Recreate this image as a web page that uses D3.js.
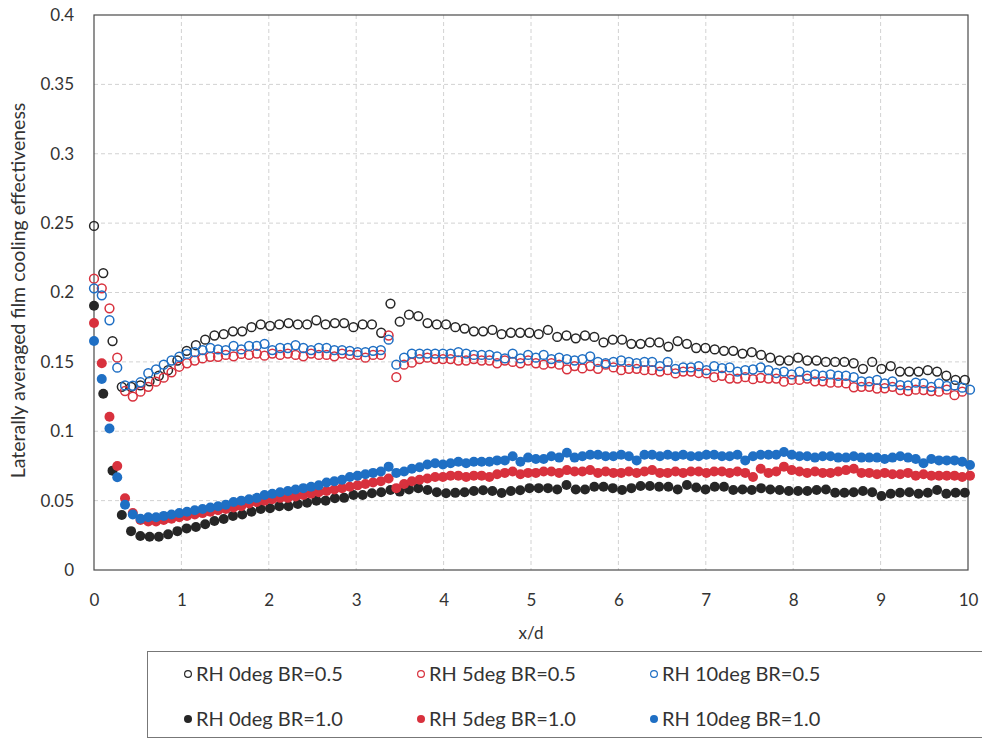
<!DOCTYPE html>
<html>
<head>
<meta charset="utf-8">
<title>Laterally averaged film cooling effectiveness</title>
<script src="https://cdn.jsdelivr.net/npm/d3@7"></script>
<style>
  body { margin: 0; background: #fff; }
  .tick text { font-family: 'Lato', 'Liberation Sans', sans-serif; font-size: 17px; fill: #333; }
  .grid line { stroke: #d2d2d2; stroke-dasharray: 4,3; }
  .legendText { font-family: 'Lato', 'Liberation Sans', sans-serif; font-size: 20px; fill: #333; }
</style>
</head>
<body>
<div id="chart"></div>
<script>
// x/d stations, 0deg cases
const xd0 = [0,0.106,0.212,0.318,0.424,0.53,0.636,0.742,0.848,0.954,
  1.06,1.166,1.272,1.378,1.484,1.59,1.696,1.802,1.908,2.014,
  2.12,2.226,2.332,2.438,2.544,2.65,2.756,2.862,2.968,3.074,
  3.18,3.286,3.392,3.498,3.604,3.71,3.816,3.922,4.028,4.134,
  4.24,4.346,4.452,4.558,4.664,4.77,4.876,4.982,5.088,5.194,
  5.3,5.406,5.512,5.618,5.724,5.83,5.936,6.042,6.148,6.254,
  6.36,6.466,6.572,6.678,6.784,6.89,6.996,7.102,7.208,7.314,
  7.42,7.526,7.632,7.738,7.844,7.95,8.056,8.162,8.268,8.374,
  8.48,8.586,8.692,8.798,8.904,9.01,9.116,9.222,9.328,9.434,
  9.54,9.646,9.752,9.858,9.964];

// x/d stations, 5deg and 10deg cases
const xd5 = [0,0.089,0.177,0.266,0.355,0.444,0.532,0.621,0.71,0.798,
  0.887,0.976,1.064,1.153,1.242,1.331,1.419,1.508,1.597,1.685,
  1.774,1.863,1.951,2.04,2.129,2.218,2.306,2.395,2.484,2.572,
  2.661,2.75,2.838,2.927,3.016,3.105,3.193,3.282,3.371,3.459,
  3.548,3.637,3.725,3.814,3.903,3.992,4.08,4.169,4.258,4.346,
  4.435,4.524,4.612,4.701,4.79,4.879,4.967,5.056,5.145,5.233,
  5.322,5.411,5.499,5.588,5.677,5.766,5.854,5.943,6.032,6.12,
  6.209,6.298,6.386,6.475,6.564,6.653,6.741,6.83,6.919,7.007,
  7.096,7.185,7.273,7.362,7.451,7.54,7.628,7.717,7.806,7.894,
  7.983,8.072,8.16,8.249,8.338,8.427,8.515,8.604,8.693,8.781,
  8.87,8.959,9.047,9.136,9.225,9.314,9.402,9.491,9.58,9.668,
  9.757,9.846,9.934,10.023];

const rh0_br05 = [0.248,0.214,0.165,0.132,0.132,0.133,0.136,0.140,0.144,0.151,
  0.158,0.162,0.166,0.169,0.170,0.172,0.172,0.175,0.177,0.176,
  0.177,0.178,0.177,0.177,0.180,0.177,0.178,0.178,0.175,0.177,
  0.177,0.171,0.192,0.179,0.184,0.183,0.178,0.177,0.177,0.175,
  0.174,0.172,0.172,0.173,0.170,0.171,0.171,0.171,0.170,0.173,
  0.168,0.169,0.167,0.169,0.168,0.164,0.166,0.166,0.163,0.163,
  0.164,0.164,0.161,0.165,0.163,0.160,0.160,0.159,0.158,0.158,
  0.156,0.157,0.155,0.153,0.151,0.151,0.153,0.151,0.151,0.150,
  0.150,0.150,0.149,0.145,0.150,0.145,0.147,0.143,0.143,0.143,
  0.144,0.143,0.140,0.137,0.137];

const rh5_br05 = [0.210,0.203,0.1886,0.153,0.129,0.125,0.1285,0.132,0.1357,0.1386,
  0.1425,0.1465,0.149,0.151,0.1525,0.1537,0.1537,0.155,0.154,0.1557,
  0.155,0.156,0.1545,0.156,0.155,0.156,0.155,0.154,0.156,0.155,
  0.155,0.154,0.156,0.155,0.155,0.153,0.155,0.155,0.169,0.139,
  0.148,0.1494,0.152,0.153,0.152,0.152,0.152,0.151,0.151,0.152,
  0.151,0.151,0.149,0.151,0.150,0.149,0.151,0.149,0.148,0.149,
  0.148,0.1446,0.147,0.1453,0.147,0.145,0.148,0.146,0.144,0.145,
  0.145,0.144,0.144,0.143,0.144,0.1417,0.143,0.143,0.142,0.1417,
  0.139,0.140,0.138,0.138,0.139,0.1375,0.1385,0.138,0.138,0.1357,
  0.137,0.137,0.138,0.136,0.136,0.135,0.135,0.1345,0.1317,0.132,
  0.132,0.1308,0.131,0.132,0.1297,0.129,0.130,0.1297,0.129,0.1285,
  0.130,0.126,0.1285];

const rh10_br05 = [0.203,0.198,0.180,0.1458,0.133,0.1328,0.1353,0.1418,0.1446,0.148,
  0.151,0.1537,0.1557,0.157,0.1585,0.160,0.159,0.1585,0.1615,0.159,
  0.1615,0.1615,0.163,0.1585,0.160,0.160,0.162,0.160,0.1585,0.160,
  0.160,0.1585,0.1585,0.158,0.157,0.157,0.158,0.1585,0.166,0.148,
  0.153,0.156,0.156,0.156,0.156,0.156,0.156,0.157,0.156,0.155,
  0.155,0.155,0.154,0.1525,0.156,0.1525,0.155,0.153,0.155,0.152,
  0.153,0.152,0.151,0.152,0.154,0.150,0.149,0.150,0.151,0.150,
  0.149,0.150,0.150,0.147,0.150,0.145,0.146,0.146,0.147,0.144,
  0.147,0.1455,0.146,0.143,0.144,0.1445,0.146,0.144,0.142,0.143,
  0.141,0.143,0.140,0.141,0.140,0.141,0.140,0.140,0.139,0.136,
  0.136,0.137,0.1345,0.136,0.1333,0.133,0.135,0.1345,0.132,0.1345,
  0.1326,0.133,0.1314,0.130];

const rh0_br10 = [0.1905,0.127,0.0716,0.0396,0.028,0.0245,0.024,0.024,0.0257,0.028,
  0.030,0.031,0.033,0.0353,0.0367,0.039,0.040,0.042,0.044,0.0445,
  0.046,0.046,0.0476,0.0485,0.050,0.050,0.0517,0.052,0.054,0.054,
  0.0553,0.056,0.0577,0.0565,0.058,0.059,0.0577,0.056,0.0553,0.0556,
  0.056,0.057,0.0575,0.057,0.0555,0.057,0.0575,0.059,0.059,0.059,
  0.058,0.0613,0.058,0.058,0.060,0.060,0.059,0.0577,0.059,0.0605,
  0.0605,0.060,0.060,0.058,0.0613,0.0595,0.058,0.060,0.060,0.0577,
  0.058,0.0577,0.059,0.058,0.0577,0.057,0.057,0.057,0.0577,0.058,
  0.0557,0.0557,0.056,0.057,0.056,0.0533,0.055,0.0557,0.056,0.055,
  0.0557,0.0577,0.055,0.0557,0.0557];

const rh5_br10 = [0.178,0.149,0.1105,0.075,0.0517,0.041,0.036,0.035,0.035,0.036,
  0.037,0.038,0.039,0.040,0.041,0.042,0.043,0.044,0.045,0.046,
  0.048,0.049,0.050,0.051,0.052,0.052,0.053,0.054,0.055,0.056,
  0.057,0.058,0.059,0.060,0.061,0.062,0.063,0.064,0.066,0.059,
  0.062,0.064,0.065,0.066,0.067,0.067,0.068,0.068,0.067,0.068,
  0.068,0.067,0.069,0.070,0.071,0.069,0.070,0.070,0.071,0.071,
  0.070,0.072,0.071,0.071,0.072,0.070,0.071,0.070,0.070,0.071,
  0.070,0.071,0.072,0.070,0.070,0.071,0.070,0.071,0.071,0.070,
  0.071,0.071,0.070,0.071,0.070,0.067,0.073,0.070,0.071,0.0745,
  0.072,0.071,0.070,0.071,0.070,0.070,0.071,0.072,0.073,0.070,
  0.070,0.069,0.070,0.069,0.069,0.070,0.068,0.069,0.068,0.068,
  0.068,0.068,0.067,0.068];

const rh10_br10 = [0.165,0.1377,0.102,0.0668,0.047,0.040,0.037,0.038,0.038,0.039,
  0.040,0.041,0.042,0.043,0.044,0.045,0.046,0.047,0.049,0.050,
  0.051,0.052,0.054,0.055,0.056,0.057,0.058,0.059,0.060,0.061,
  0.063,0.064,0.065,0.067,0.068,0.069,0.070,0.071,0.0745,0.070,
  0.071,0.073,0.074,0.076,0.077,0.076,0.077,0.078,0.077,0.078,
  0.078,0.078,0.079,0.079,0.082,0.078,0.081,0.080,0.080,0.082,
  0.081,0.0845,0.081,0.082,0.083,0.083,0.082,0.082,0.083,0.082,
  0.079,0.083,0.083,0.082,0.083,0.082,0.083,0.082,0.082,0.083,
  0.083,0.082,0.082,0.083,0.079,0.082,0.083,0.083,0.083,0.085,
  0.083,0.082,0.082,0.081,0.082,0.082,0.081,0.081,0.082,0.081,
  0.081,0.081,0.080,0.081,0.082,0.081,0.080,0.077,0.080,0.079,
  0.079,0.079,0.078,0.0757];

const seriesNames = ["RH 0deg BR=0.5", "RH 5deg BR=0.5", "RH 10deg BR=0.5",
                     "RH 0deg BR=1.0", "RH 5deg BR=1.0", "RH 10deg BR=1.0"];
const xTicks = [0,1,2,3,4,5,6,7,8,9,10];
const yTicks = [0,0.05,0.1,0.15,0.2,0.25,0.3,0.35,0.4];

const colours = { black: "#262626", red: "#d8313d", blue: "#1f6fc4" };

const series = [
  { name: seriesNames[0], x: xd0, y: rh0_br05,  colour: colours.black, filled: false },
  { name: seriesNames[1], x: xd5, y: rh5_br05,  colour: colours.red,   filled: false },
  { name: seriesNames[2], x: xd5, y: rh10_br05, colour: colours.blue,  filled: false },
  { name: seriesNames[3], x: xd0, y: rh0_br10,  colour: colours.black, filled: true },
  { name: seriesNames[4], x: xd5, y: rh5_br10,  colour: colours.red,   filled: true },
  { name: seriesNames[5], x: xd5, y: rh10_br10, colour: colours.blue,  filled: true }
];

var W = 982, H = 740;
var margin = {left: 94, top: 15, right: 14, bottom: 170};
var pw = W - margin.left - margin.right,
    ph = H - margin.top - margin.bottom;

var svg = d3.select("#chart").append("svg")
    .attr("width", W).attr("height", H);

var g = svg.append("g")
    .attr("transform", "translate(" + margin.left + "," + margin.top + ")");

var x = d3.scaleLinear().domain([0, 10]).range([0, pw]);
var y = d3.scaleLinear().domain([0, 0.4]).range([ph, 0]);

// grid
g.append("g").attr("class", "grid")
  .selectAll("line.h").data(yTicks.slice(1, -1)).enter().append("line")
    .attr("x1", 0).attr("x2", pw)
    .attr("y1", d => y(d)).attr("y2", d => y(d));
g.append("g").attr("class", "grid")
  .selectAll("line.v").data(xTicks.slice(1, -1)).enter().append("line")
    .attr("y1", 0).attr("y2", ph)
    .attr("x1", d => x(d)).attr("x2", d => x(d));

// axes (labels only, no tick marks)
var yAxis = g.append("g")
    .call(d3.axisLeft(y).tickValues(yTicks).tickSize(0).tickPadding(20)
      .tickFormat(d => d3.format("~g")(d)));
yAxis.select(".domain").remove();

var xAxis = g.append("g")
    .attr("transform", "translate(0," + ph + ")")
    .call(d3.axisBottom(x).tickValues(xTicks).tickSize(0).tickPadding(24));
xAxis.select(".domain").remove();

// frame
g.append("rect")
  .attr("width", pw).attr("height", ph)
  .attr("fill", "none").attr("stroke", "#4a4a4a").attr("stroke-width", 1.2);

// axis titles
svg.append("text")
  .attr("x", margin.left + pw / 2).attr("y", 639)
  .attr("text-anchor", "middle")
  .style("font-family", "'Lato', 'Liberation Sans', sans-serif")
  .style("font-size", "17px").style("fill", "#333")
  .text("x/d");

svg.append("text")
  .attr("transform", "translate(25," + (margin.top + ph / 2 - 2) + ")rotate(-90)")
  .attr("text-anchor", "middle")
  .style("font-family", "'Lato', 'Liberation Sans', sans-serif")
  .style("font-size", "19.5px").style("fill", "#333")
  .text("Laterally averaged film cooling effectiveness");

// points
series.forEach(function(s) {
  g.append("g")
    .selectAll("circle")
    .data(s.y.map((v, i) => [s.x[i], v]))
    .enter().append("circle")
      .attr("cx", d => x(d[0]))
      .attr("cy", d => y(d[1]))
      .attr("r", s.filled ? 5 : 4.4)
      .attr("fill", s.filled ? s.colour : "none")
      .attr("stroke", s.colour)
      .attr("stroke-width", s.filled ? 0 : 1.5);
});

// legend
var legend = svg.append("g");
legend.append("rect")
  .attr("x", 147.5).attr("y", 651.5).attr("width", 838).attr("height", 86)
  .attr("fill", "#fff").attr("stroke", "#777").attr("stroke-width", 1);

var colX = [188, 421, 654];
var rowY = [674, 719];

var items = legend.selectAll("g.item").data(series).enter().append("g")
  .attr("class", "item")
  .attr("transform", (d, i) => "translate(" + colX[i % 3] + "," + rowY[Math.floor(i / 3)] + ")");

items.append("circle")
  .attr("r", d => d.filled ? 4 : 3.4)
  .attr("fill", d => d.filled ? d.colour : "none")
  .attr("stroke", d => d.colour)
  .attr("stroke-width", d => d.filled ? 0 : 1.2);

items.append("text")
  .attr("class", "legendText")
  .attr("x", 8).attr("dy", "0.35em")
  .text(d => d.name);
</script>
</body>
</html>
